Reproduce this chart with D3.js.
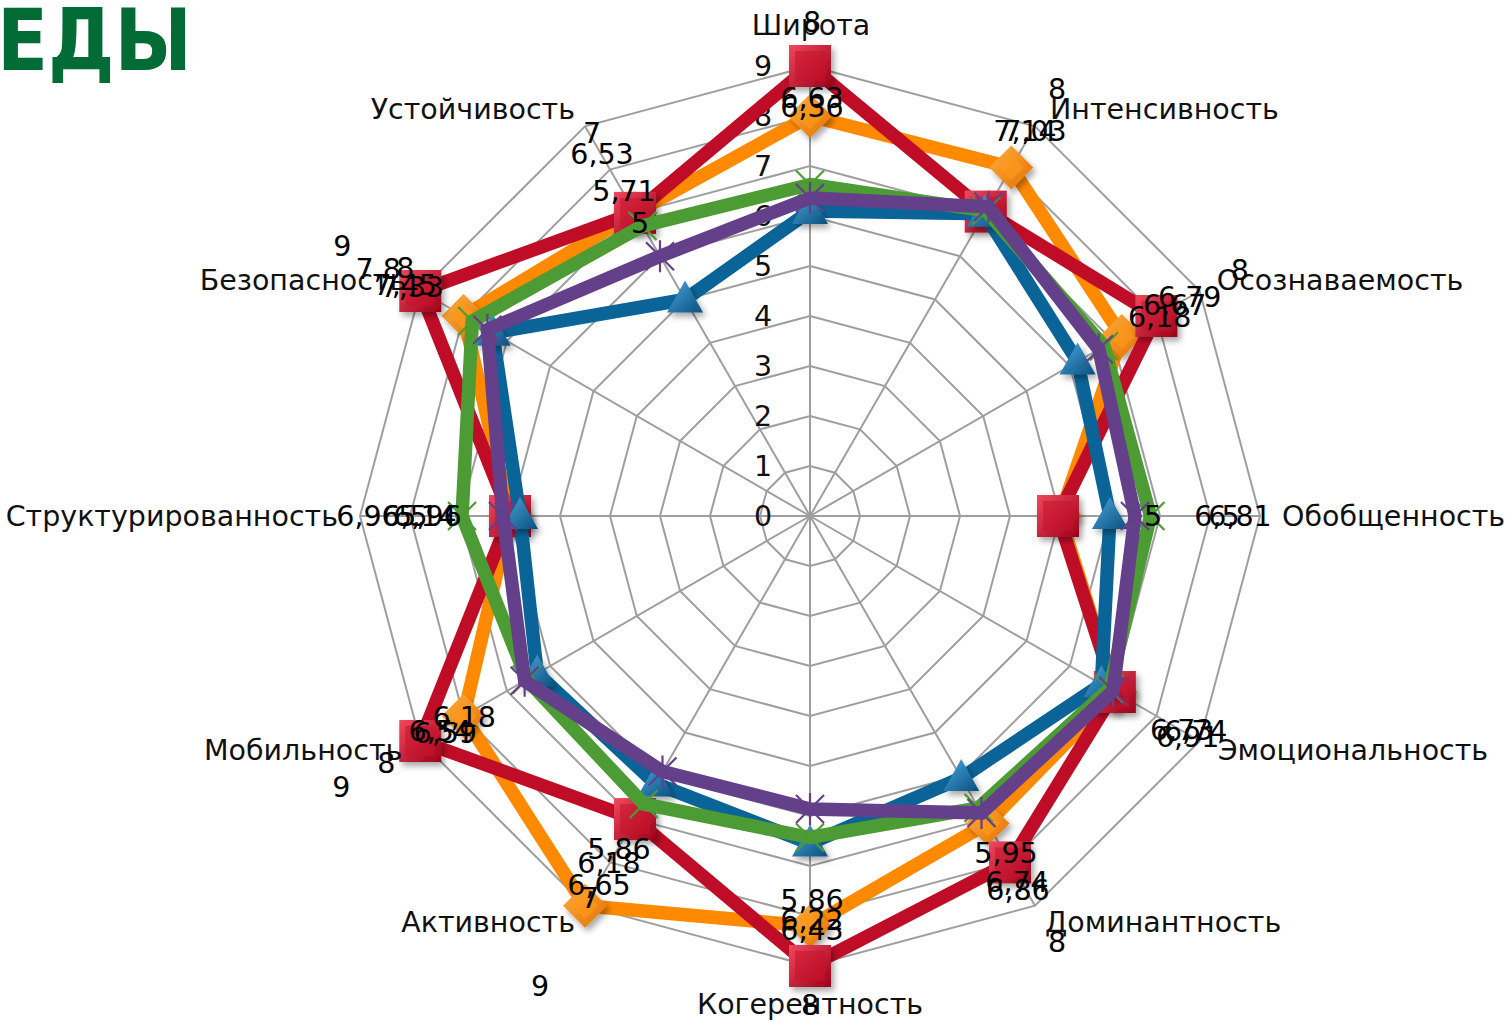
<!DOCTYPE html>
<html><head><meta charset="utf-8">
<script src="https://cdn.jsdelivr.net/npm/d3@7"></script>
<style>body{margin:0;background:#fff;} svg{display:block;font-family:"DejaVu Sans",Verdana,sans-serif;}</style>
</head><body>
<svg id="chart" width="1508" height="1021"></svg>
<script>
// ---------- DATA ----------
const titleText = "ЕДЫ";
const categories = ["Широта","Интенсивность","Осознаваемость","Обобщенность","Эмоциональность","Доминантность",
  "Когерентность","Активность","Мобильность","Структурированность","Безопасность","Устойчивость"];
const tickLabels = ["0","1","2","3","4","5","6","7","8","9"];
const orangeValues = [8.0, 8.05, 7.2, 5.0, 7.05, 7.1, 8.2, 9.0, 8.0, 6.0, 8.0, 7.0];
const redValues    = [9.0, 7.03, 8.0, 4.96, 7.04, 8.0, 9.0, 7.0, 9.0, 6.0, 9.0, 7.0];
const blueValues   = [6.1, 6.98, 6.18, 6.0, 6.73, 6.05, 6.55, 6.18, 6.3, 5.8, 7.33, 5.0];
const greenValues  = [6.63, 7.05, 6.79, 6.81, 6.91, 6.74, 6.43, 6.65, 6.54, 6.96, 7.8, 6.7];
const purpleValues = [6.36, 7.14, 6.67, 6.5, 7.0, 6.86, 5.86, 5.9, 6.59, 6.14, 7.45, 6.0];
// data label texts, grouped by axis
const dataLabelTexts = [
  ["8","6,63","6,36"],
  ["8","7,14","7,03"],
  ["8","6,79","6,67","6,18"],
  ["5","6,5","6,81"],
  ["6,73","6,91","6,74"],
  ["5,95","6,74","6,86","8"],
  ["5,86","6,22","6,43","8"],
  ["5,86","6,18","6,65","7","9"],
  ["8","9","6,18","6,54","6,59"],
  ["6,96","6,5","6,14","5,96"],
  ["9","7,8","8","7,45","7,33"],
  ["7","6,53","5,71","5"]
];

// ---------- LAYOUT ----------
const W = 1508, H = 1021, cx = 810, cy = 516, R = 450;
const FS = 28.5;
// label offsets (px) from each axis end point, same order as dataLabelTexts
const dataLabelOffsets = [
  [[2,-44],[2,32],[2,41]],
  [[22,-38],[-10,4],[0,4]],
  [[40,-21],[-10,6],[-25,14],[-40,26]],
  [[-107,0],[-43,0],[-20,0]],
  [[-18,-11],[-12,-4],[-4,-10]],
  [[-29,-53],[-18,-24],[-17,-16],[22,36]],
  [[2,-66],[2,-46],[2,-36],[0,39]],
  [[34,-57],[24,-43],[14,-21],[5,-8],[-45,80]],
  [[-34,22],[-79,46],[44,-24],[20,-10],[25,-8]],
  [[8,0],[45,0],[65,0],[70,0]],
  [[-78,-45],[-42,-22],[-15,-23],[-15,-6],[-8,-4]],
  [[7,6],[17,27],[39,64],[55,96]]
];
const catOffsets = [[1,-41,"middle"],[15,-18,"start"],[17,-11,"start"],[22,0,"start"],[18,9,"start"],[10,16,"start"],
  [0,38,"middle"],[-10,16,"end"],[-18,9,"end"],[-22,0,"end"],[-14,-11,"end"],[-10,-18,"end"]];

const svg = d3.select("#chart");
const rScale = d3.scaleLinear().domain([0, 9]).range([0, R]);
const n = categories.length;
const ang = d3.scalePoint().domain(d3.range(n + 1)).range([0, 2 * Math.PI]);
function pt(i, v) {
  const a = ang(i), r = rScale(v);
  return [cx + r * Math.sin(a), cy - r * Math.cos(a)];
}

const defs = svg.append("defs");
const sh = defs.append("filter").attr("id","shadow").attr("x","-50%").attr("y","-50%").attr("width","200%").attr("height","200%");
sh.append("feDropShadow").attr("dx",3).attr("dy",4).attr("stdDeviation",3).attr("flood-color","#000").attr("flood-opacity",0.35);
function grad(id, c1, c2) {
  const g = defs.append("linearGradient").attr("id", id).attr("x1","0").attr("y1","0").attr("x2","1").attr("y2","1");
  g.append("stop").attr("offset","0%").attr("stop-color", c1);
  g.append("stop").attr("offset","100%").attr("stop-color", c2);
}
grad("gRed", "#f0485e", "#9c0018");
grad("gOrange", "#ffb040", "#e27000");
grad("gBlue", "#4aa6de", "#0a4f7e");

// Title
svg.append("text").attr("x", -3).attr("y", 70).attr("font-size", 86).attr("font-weight", "bold")
  .attr("fill", "#036b36").attr("textLength", 195).attr("lengthAdjust","spacingAndGlyphs").text(titleText);

// Grid
const grid = svg.append("g").attr("stroke", "#9e9e9e").attr("stroke-width", 2).attr("fill", "none");
const ringLine = d3.line().curve(d3.curveLinearClosed);
d3.range(1, 10).forEach(k => {
  grid.append("path").attr("d", ringLine(d3.range(n).map(i => pt(i, k))));
});
d3.range(n).forEach(i => {
  const p = pt(i, 9);
  grid.append("line").attr("x1", cx).attr("y1", cy).attr("x2", p[0]).attr("y2", p[1]);
});

// Tick labels
svg.append("g").selectAll("text").data(tickLabels).join("text")
  .attr("x", (d, k) => pt(0, k)[0] - 47).attr("y", (d, k) => pt(0, k)[1])
  .attr("dy", "0.36em").attr("text-anchor", "middle").attr("font-size", FS).attr("fill", "#111").text(d => d);

// Series (drawing order: orange, red, blue, green, purple)
const series = [
  {values: orangeValues, color: "#ff8a00", marker: "diamond"},
  {values: redValues, color: "#c00d27", marker: "square"},
  {values: blueValues, color: "#0a6497", marker: "triangle"},
  {values: greenValues, color: "#4c9b34", marker: "x"},
  {values: purpleValues, color: "#643f8a", marker: "star"}
];
const seriesLine = d3.line().curve(d3.curveLinearClosed);
series.forEach(s => {
  const g = svg.append("g");
  const pts = s.values.map((v, i) => pt(i, v));
  g.append("path").attr("d", seriesLine(pts)).attr("fill", "none").attr("stroke", s.color)
    .attr("stroke-width", 13.5).attr("stroke-linejoin", "miter").attr("stroke-miterlimit", 6);
  const mg = g.append("g");
  pts.forEach(p => {
    const m = mg.append("g").attr("transform", `translate(${p[0]},${p[1]})`);
    if (s.marker === "square") {
      m.append("rect").attr("x", -21).attr("y", -21).attr("width", 42).attr("height", 42)
        .attr("fill", "url(#gRed)").attr("filter", "url(#shadow)");
      m.append("rect").attr("x", -15).attr("y", -15).attr("width", 30).attr("height", 30)
        .attr("fill", "#c8132c").attr("opacity", 0.55);
    } else if (s.marker === "diamond") {
      m.append("path").attr("d", "M0,-22L22,0L0,22L-22,0Z").attr("fill", "url(#gOrange)").attr("filter", "url(#shadow)");
      m.append("path").attr("d", "M0,-13L13,0L0,13L-13,0Z").attr("fill", "#ff9a1a").attr("opacity", 0.6);
    } else if (s.marker === "triangle") {
      m.append("path").attr("d", "M0,-19L18,13L-18,13Z").attr("fill", "url(#gBlue)").attr("filter", "url(#shadow)");
    } else if (s.marker === "x") {
      m.append("path").attr("d", "M-14,-14L14,14M14,-14L-14,14").attr("stroke", s.color).attr("stroke-width", 2.2);
    } else {
      m.append("path").attr("d", "M-14,-14L14,14M14,-14L-14,14M0,-16L0,16").attr("stroke", s.color).attr("stroke-width", 2.2);
    }
  });
});

// Category labels
svg.append("g").selectAll("text").data(categories).join("text")
  .attr("x", (d, i) => pt(i, 9)[0] + catOffsets[i][0])
  .attr("y", (d, i) => pt(i, 9)[1] + catOffsets[i][1])
  .attr("dy", "0.36em").attr("text-anchor", (d, i) => catOffsets[i][2])
  .attr("font-size", FS).attr("fill", "#111").text(d => d);

// Data labels
const dl = svg.append("g").attr("font-size", FS).attr("fill", "#000").attr("text-anchor", "middle");
dataLabelTexts.forEach((arr, i) => {
  const base = pt(i, 9);
  arr.forEach((t, j) => {
    const o = dataLabelOffsets[i][j];
    dl.append("text").attr("x", base[0] + o[0]).attr("y", base[1] + o[1]).attr("dy", "0.36em").text(t);
  });
});
</script>
</body></html>
